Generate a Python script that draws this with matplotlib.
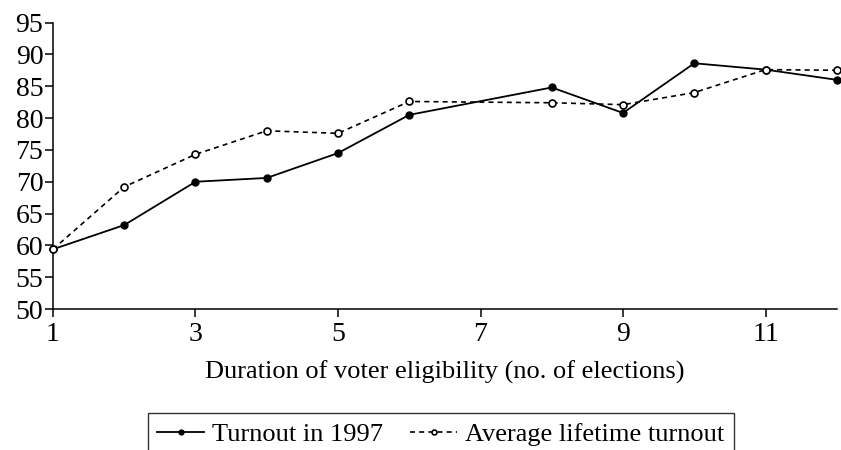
"""
Turnout by duration of voter eligibility
"""
import matplotlib
matplotlib.use("Agg")
from matplotlib import pyplot as plt

plt.rcParams["font.family"] = ["Liberation Serif", "DejaVu Serif"]

# elections of eligibility (no point drawn at 7)
elections = [1, 2, 3, 4, 5, 6, 8, 9, 10, 11, 12]
turnout_1997 = [59.4, 63.2, 70.0, 70.6, 74.5, 80.5, 84.8, 80.8, 88.6, 87.6, 86.0]
lifetime_turnout = [59.4, 69.2, 74.3, 78.0, 77.6, 82.6, 82.4, 82.1, 84.0, 87.6, 87.5]

x_ticks = [1, 3, 5, 7, 9, 11]
y_ticks = list(range(50, 96, 5))

fig = plt.figure(figsize=(8.41, 4.5), dpi=100)
ax = fig.add_axes([0.063, 0.313, 0.932, 0.637])

ax.plot(elections, turnout_1997, color="black", linestyle="-", linewidth=1.3,
        marker="o", markersize=5, markerfacecolor="black", markeredgecolor="black",
        label="Turnout in 1997", clip_on=False, zorder=3)
ax.plot(elections, lifetime_turnout, color="black", linestyle=(0, (3, 2.5)), linewidth=1.2,
        marker="o", markersize=5, markerfacecolor="white", markeredgecolor="black",
        markeredgewidth=1.2, label="Average lifetime turnout", clip_on=False, zorder=4)

ax.set_xlim(1, 12)
ax.set_ylim(50, 95)
ax.set_xticks(x_ticks)
ax.set_yticks(y_ticks)
ax.spines["top"].set_visible(False)
ax.spines["right"].set_visible(False)
for side in ("left", "bottom"):
    ax.spines[side].set_linewidth(1.1)
ax.tick_params(direction="out", length=6, width=1.1, labelsize=20)
ax.tick_params(axis="x", pad=3)
ax.tick_params(axis="y", pad=1)
ax.set_xlabel("Duration of voter eligibility (no. of elections)", fontsize=19, labelpad=10)

leg = fig.legend(loc="upper center", bbox_to_anchor=(0.524, 0.082), ncol=2,
                 fontsize=19, frameon=True, fancybox=False, edgecolor="black",
                 handlelength=1.8, handletextpad=0.3, columnspacing=1.0,
                 borderpad=0.35, borderaxespad=0, markerscale=0.7)
leg.get_frame().set_linewidth(1.0)

fig.savefig("out.png", dpi=100)
